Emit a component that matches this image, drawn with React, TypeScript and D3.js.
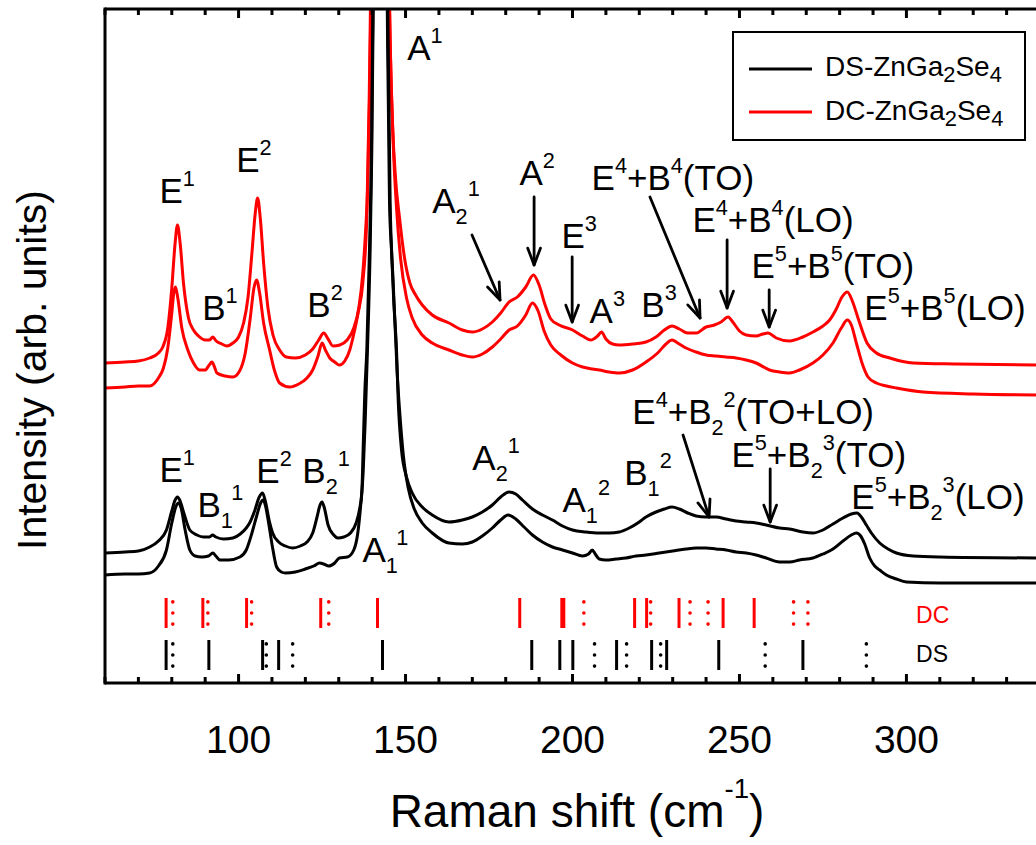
import { curveMonotoneX, line as d3_line, range, scaleLinear } from "d3";
import type { FC } from "react";

// Raman spectra, [shift (cm-1), intensity (arb.)]
const dcUpper: [number, number][] = [
  [60, 320], [66, 321], [70, 322], [73.4, 325], [76, 330], [77.3, 336], [78.8, 355], [80, 395], [81, 440], [81.7, 458],
  [82.5, 440], [83.5, 400], [85, 365], [86.5, 353], [88, 347], [90, 343], [91.3, 343], [92.3, 346], [93.3, 342], [95, 339],
  [96.5, 337], [98.3, 340], [100, 346], [101.5, 360], [102.8, 385], [104, 430], [105, 470], [105.7, 485], [106.5, 465],
  [107.5, 420], [108.8, 375], [110.3, 348], [112.3, 333], [114.3, 326], [117, 325], [120, 328], [122.2, 334], [124, 343],
  [125.5, 350], [126.8, 344], [128.3, 337], [130.3, 338], [132.5, 343], [134.5, 355], [136, 375], [137.2, 410], [138, 450],
  [138.7, 500], [139.3, 600], [140.1, 800], [141, 1100], [142.3, 1500], [143.6, 1100], [144.5, 820], [145.2, 673],
  [146.1, 560], [147, 505], [148.2, 465], [149.7, 425], [151.3, 400], [153, 388], [155, 378], [158, 368], [163, 360],
  [167, 353], [170, 351], [173, 354], [176, 361], [178.5, 370], [181, 381], [183.5, 386], [186, 396], [188.3, 408],
  [190, 398], [191.8, 378], [193.5, 364], [196, 358], [200, 353], [203, 347], [205.5, 343], [207.5, 347], [208.7, 351],
  [210, 344], [212, 339], [214, 338], [218, 339], [222, 341], [225, 346], [227.5, 353], [229.8, 357], [232, 354],
  [234.5, 350], [237, 350], [240, 356], [242.5, 358], [244.5, 361], [246.6, 366], [248, 361], [250, 352], [252, 348],
  [255, 347], [257, 349], [258.5, 350], [261, 345], [265, 342], [269, 346], [272, 351], [275, 357], [277, 363], [279, 374],
  [280.7, 386], [282.3, 391], [283.8, 382], [285.5, 365], [288.2, 340], [291, 330], [295, 325], [302, 320], [315, 319],
  [340, 318],
];

const dcLower: [number, number][] = [
  [60, 295], [66, 296], [70, 297], [73.4, 297], [76, 305], [77.5, 315], [78.8, 335], [80, 370], [80.6, 390], [81.1, 396],
  [81.8, 385], [83, 355], [84.8, 333], [86.5, 320], [88.3, 313], [90, 313], [91.2, 318], [92, 321], [92.8, 316], [93.5, 310],
  [96, 307], [98.3, 306], [100.3, 312], [102, 330], [103.5, 365], [104.6, 395], [105.4, 403], [106.3, 390], [107.5, 360],
  [109.3, 333], [110.8, 312], [112.3, 300], [115.3, 296], [118, 299], [120.5, 305], [122.2, 313], [123.8, 327], [125, 340],
  [126, 333], [127.3, 325], [128.8, 321], [130.2, 318], [131.8, 322], [133.3, 333], [134.3, 346], [135.8, 370],
  [137.2, 400], [138.4, 466], [139.1, 580], [140, 800], [141, 1200], [142.3, 1600], [143.6, 1200], [144.6, 820],
  [145.4, 640], [146.3, 540], [147.3, 475], [148.5, 425], [150.3, 385], [152, 365], [155, 348], [158, 340], [163, 333],
  [167, 328], [170, 326], [173, 329], [176, 336], [178.5, 344], [181, 353], [183.5, 357], [186, 368], [188, 380],
  [189.7, 372], [191.5, 352], [193.5, 338], [196.5, 328], [200, 320], [203, 316], [206, 314], [208, 313], [211, 311],
  [214, 310], [218, 313], [222, 321], [225.5, 330], [228, 339], [229.8, 343], [231.5, 340], [234, 335], [237, 331],
  [240, 328], [243, 327], [246, 326], [249, 325], [252, 323], [255, 320], [259, 313], [262, 311], [265, 310], [268, 313],
  [272, 320], [275, 328], [278, 340], [280.5, 355], [282.3, 363], [283.5, 358], [285, 340], [286.7, 320], [288.5, 306],
  [291, 300], [294, 297], [297, 295], [305, 291], [320, 289], [340, 288],
];

const dsUpper: [number, number][] = [
  [60, 130], [66, 131], [70, 132], [73.4, 136], [76, 142], [78.4, 153], [80, 172], [81, 183], [81.7, 186], [82.5, 182],
  [83.6, 170], [85.4, 153], [87.5, 148], [89.5, 146], [91.3, 146], [92.2, 148], [93.2, 146], [95.5, 144], [98.3, 145],
  [100.5, 149], [102.3, 155], [103.3, 160], [104.8, 172], [106.2, 186], [107.2, 190], [108, 182], [109.2, 162],
  [110.2, 150], [112, 141], [114, 137], [116.2, 135], [118.5, 137], [120.5, 141], [122.2, 150], [123.5, 166], [124.4, 178],
  [125, 181], [125.7, 175], [126.8, 158], [128.5, 148], [129.7, 145], [131.5, 146], [133.5, 150], [135.2, 160],
  [136.3, 175], [136.9, 190], [137.3, 233], [137.8, 290], [138.4, 333], [139.2, 433], [139.8, 533], [140.3, 700],
  [141.2, 1100], [142.3, 1500], [143.5, 1100], [144.2, 800], [144.6, 650], [145.2, 480], [145.8, 433], [146.5, 380],
  [147.3, 333], [147.8, 283], [148.8, 233], [150.3, 206], [152, 190], [155, 176], [158, 168], [163, 161], [167, 163],
  [170, 166], [173, 171], [176, 178], [178.5, 186], [181, 191], [183, 189], [185, 183], [188, 174], [191, 168], [194, 163],
  [197, 157], [200, 153], [204, 151], [208, 150], [211, 150], [214, 151], [217, 155], [220, 161], [222, 166], [225, 171],
  [227.5, 174], [229.8, 176], [232, 174], [234.5, 170], [237, 167], [240, 166], [243, 166], [246, 164], [249, 162],
  [252, 161], [255, 160], [258, 158], [262, 155], [265, 154], [269, 151], [272, 150], [275, 153], [278, 159], [281, 165],
  [283.5, 169], [285.2, 170], [286.5, 166], [288, 158], [289.5, 150], [292, 140], [294.5, 134], [297, 130], [302, 127],
  [310, 126], [340, 125],
];

const dsLower: [number, number][] = [
  [60, 108], [66, 109], [70, 109], [73.4, 110], [76, 117], [78.4, 133], [80, 160], [81.2, 176], [82, 180], [82.8, 175],
  [84, 153], [85.4, 133], [87, 127], [89, 126], [91, 127], [92.3, 130], [93.2, 127], [94.4, 123], [97, 123], [100.4, 126],
  [102.3, 133], [104, 150], [105.5, 168], [106.6, 180], [107.3, 183], [108, 178], [109, 160], [110.2, 135], [111.4, 116],
  [112.8, 111], [114, 110], [117, 111], [120, 114], [122.5, 117], [124.3, 120], [125.5, 119], [127, 117], [128.8, 120],
  [130.2, 125], [132.6, 126], [134.5, 133], [135.7, 150], [136.5, 175], [137.3, 210], [137.9, 260], [138.6, 333],
  [139.4, 433], [139.9, 533], [140.4, 700], [141.3, 1100], [142.4, 1500], [143.5, 1100], [144.3, 800], [144.8, 640],
  [145.4, 480], [146.3, 400], [147.5, 310], [148.5, 260], [149.6, 220], [150.8, 195], [152.5, 175], [155, 160], [158, 150],
  [163, 140], [167, 139], [170, 141], [173, 147], [176, 155], [178.5, 163], [180.7, 168], [183, 164], [185.5, 156],
  [188, 148], [191, 141], [194, 136], [197, 133], [200, 130], [203, 127], [204.8, 129], [205.9, 133], [206.8, 129],
  [208, 124], [210, 123], [213, 124], [216, 125], [219, 127], [222, 128], [226, 130], [230, 132], [234, 134], [237, 135],
  [240, 135], [243, 134], [246, 133], [249, 131], [252, 130], [255, 128], [258, 125], [262, 121], [265, 121], [268, 123],
  [272, 125], [275, 129], [278, 134], [281, 142], [283.5, 148], [285, 150], [286.3, 147], [287.5, 139], [289, 125],
  [290.5, 117], [292, 113], [294, 108], [297, 104], [300, 101], [310, 100], [340, 100],
];

// calculated mode positions (cm-1), solid and dotted marks
const dcSolid = [78.3, 89.3, 102.4, 124.6, 141.6, 184.2, 196.8, 197.4, 218.6, 222.2, 231.9, 245.1, 254.4];
const dcDotted = [80.3, 90.8, 103.9, 127, 203.4, 223.4, 235.2, 240.6, 266.2, 270.5];
const dsSolid = [78.3, 91.1, 107.2, 112, 143.1, 187.8, 196.2, 200.1, 213.2, 223.7, 228.2, 243.8, 269];
const dsDotted = [80.3, 108.3, 116.2, 206.6, 216.2, 226.4, 257.7, 288];

const xMajorTicks = [100, 150, 200, 250, 300];
const xMinorTicks = range(60, 341, 10);

// peak labels: text, x (cm-1), y (intensity) of the baseline start
const dcLabels = [
  { text: "E^{1}", x: 76.3, y: 480 },
  { text: "B^{1}", x: 89.1, y: 363 },
  { text: "E^{2}", x: 99.3, y: 511 },
  { text: "B^{2}", x: 120.6, y: 366 },
  { text: "A^{1}", x: 150.5, y: 623 },
  { text: "A_{2}^{1}", x: 158, y: 470 },
  { text: "A^{2}", x: 184.1, y: 498 },
  { text: "E^{3}", x: 196.7, y: 435 },
  { text: "A^{3}", x: 205.1, y: 360 },
  { text: "B^{3}", x: 220.6, y: 366 },
  { text: "E^{4}+B^{4}(TO)", x: 205.7, y: 493 },
  { text: "E^{4}+B^{4}(LO)", x: 235.9, y: 451 },
  { text: "E^{5}+B^{5}(TO)", x: 253.6, y: 405 },
  { text: "E^{5}+B^{5}(LO)", x: 287.4, y: 363 },
];

const dsLabels = [
  { text: "E^{1}", x: 76.3, y: 201 },
  { text: "B_{1}^{1}", x: 87.7, y: 166 },
  { text: "E^{2}", x: 105.3, y: 200 },
  { text: "B_{2}^{1}", x: 119.1, y: 200 },
  { text: "A_{1}^{1}", x: 137.1, y: 121 },
  { text: "A_{2}^{1}", x: 170, y: 213 },
  { text: "A_{1}^{2}", x: 197, y: 171 },
  { text: "B_{1}^{2}", x: 215.5, y: 198 },
  { text: "E^{4}+B_{2}^{2}(TO+LO)", x: 217.9, y: 259 },
  { text: "E^{5}+B_{2}^{3}(TO)", x: 247.6, y: 216 },
  { text: "E^{5}+B_{2}^{3}(LO)", x: 283.5, y: 174 },
];

// arrows: [x1, y1, x2, y2] in data units
const arrows: [number, number, number, number][] = [
  [169.9, 448, 178.3, 383],
  [188.5, 486, 188.5, 418],
  [199.9, 426, 199.9, 361],
  [223.2, 486, 238.2, 365],
  [246.3, 443, 246.3, 375],
  [258.9, 393, 258.9, 356],
  [233.1, 248, 240.9, 166],
  [259.2, 214, 259.2, 161],
];

const W = 1036;
const H = 845;
const margin = { left: 105, top: 9, right: 1040, bottom: 683 };
const FONT = "'Liberation Sans', Arial, Helvetica, sans-serif";
const RED = "#ff0000";

const xScale = scaleLinear().domain([60, 340]).range([margin.left, margin.right]);
const yScale = scaleLinear().domain([0, 674]).range([margin.bottom, margin.top]);

const spectrum = d3_line<[number, number]>()
  .x((d) => xScale(d[0]))
  .y((d) => yScale(d[1]))
  .curve(curveMonotoneX);

type Part = { kind: "n" | "sup" | "sub"; text: string };
const parseRich = (s: string): Part[] =>
  s
    .split(/(\^\{[^}]*\}|_\{[^}]*\})/)
    .filter((p) => p.length > 0)
    .map((p) =>
      p.startsWith("^{")
        ? { kind: "sup", text: p.slice(2, -1) }
        : p.startsWith("_{")
          ? { kind: "sub", text: p.slice(2, -1) }
          : { kind: "n", text: p },
    );

const RichText: FC<{
  x: number;
  y: number;
  text: string;
  size: number;
  fill?: string;
  anchor?: "start" | "middle" | "end";
  supShift?: number;
  subShift?: number;
  scale?: number;
}> = ({ x, y, text, size, fill = "#000", anchor = "start", supShift = 0.48, subShift = 0.3, scale = 0.62 }) => {
  let cur = 0;
  return (
    <text x={x} y={y} fontSize={size} fill={fill} textAnchor={anchor} fontFamily={FONT}>
      {parseRich(text).map((p, i) => {
        const target = p.kind === "sup" ? -supShift * size : p.kind === "sub" ? subShift * size : 0;
        const dy = target - cur;
        cur = target;
        return (
          <tspan key={i} dy={dy} fontSize={p.kind === "n" ? size : size * scale}>
            {p.text}
          </tspan>
        );
      })}
    </text>
  );
};

const Arrow: FC<{ d: [number, number, number, number] }> = ({ d }) => {
  const x1 = xScale(d[0]);
  const y1 = yScale(d[1]);
  const x2 = xScale(d[2]);
  const y2 = yScale(d[3]);
  const a = Math.atan2(y2 - y1, x2 - x1);
  const len = 18;
  const spread = 0.36;
  const h1 = [x2 - len * Math.cos(a - spread), y2 - len * Math.sin(a - spread)];
  const h2 = [x2 - len * Math.cos(a + spread), y2 - len * Math.sin(a + spread)];
  return (
    <g stroke="#000" strokeWidth={2.8} fill="none" strokeLinecap="round" strokeLinejoin="round">
      <line x1={x1} y1={y1} x2={x2} y2={y2} />
      <polyline points={`${h1[0]},${h1[1]} ${x2},${y2} ${h2[0]},${h2[1]}`} />
    </g>
  );
};

const ModeRow: FC<{ solid: number[]; dotted: number[]; top: number; bottom: number; color: string }> = ({
  solid,
  dotted,
  top,
  bottom,
  color,
}) => (
  <g stroke={color} strokeWidth={3}>
    {solid.map((v, i) => (
      <line key={`s${i}`} x1={xScale(v)} x2={xScale(v)} y1={yScale(top)} y2={yScale(bottom)} />
    ))}
    {dotted.map((v, i) => (
      <g key={`d${i}`}>
        {[0.13, 0.5, 0.87].map((f, j) => (
          <circle key={j} cx={xScale(v)} cy={yScale(top + (bottom - top) * f)} r={1.8} fill={color} stroke="none" />
        ))}
      </g>
    ))}
  </g>
);

export default function App() {
  return (
    <svg
      width={W}
      height={H}
      viewBox={`0 0 ${W} ${H}`}
      style={{ position: "absolute", left: 0, top: 0, background: "#fff" }}
    >
      <defs>
        <clipPath id="plot">
          <rect x={margin.left} y={margin.top} width={margin.right - margin.left} height={margin.bottom - margin.top} />
        </clipPath>
      </defs>
      <rect width={W} height={H} fill="#fff" />

      <g clipPath="url(#plot)" fill="none" strokeWidth={3} strokeLinejoin="round">
        <path d={spectrum(dcLower) ?? ""} stroke={RED} />
        <path d={spectrum(dcUpper) ?? ""} stroke={RED} />
        <path d={spectrum(dsLower) ?? ""} stroke="#000" />
        <path d={spectrum(dsUpper) ?? ""} stroke="#000" />
      </g>

      <ModeRow solid={dcSolid} dotted={dcDotted} top={85} bottom={55} color={RED} />
      <ModeRow solid={dsSolid} dotted={dsDotted} top={43} bottom={13} color="#000" />
      <text x={xScale(302.9)} y={yScale(60)} fontSize={23} fill={RED} fontFamily={FONT}>
        DC
      </text>
      <text x={xScale(302.9)} y={yScale(21)} fontSize={23} fill="#000" fontFamily={FONT}>
        DS
      </text>

      {dcLabels.concat(dsLabels).map((l, i) => (
        <RichText key={i} x={xScale(l.x)} y={yScale(l.y)} text={l.text} size={35} />
      ))}
      {arrows.map((a, i) => (
        <Arrow key={i} d={a} />
      ))}

      {/* legend */}
      <g fontFamily={FONT}>
        <rect x={733} y={32} width={292} height={108} fill="#fff" stroke="#000" strokeWidth={2} />
        <line x1={749} x2={812} y1={69} y2={69} stroke="#000" strokeWidth={3} />
        <line x1={749} x2={812} y1={112} y2={112} stroke={RED} strokeWidth={3} />
        <RichText x={825} y={76} text="DS-ZnGa_{2}Se_{4}" size={28} subShift={0.22} scale={0.78} />
        <RichText x={825} y={120} text="DC-ZnGa_{2}Se_{4}" size={28} subShift={0.22} scale={0.78} />
      </g>

      {/* axes */}
      <g stroke="#000" strokeWidth={3} fill="none">
        <line x1={margin.left} x2={margin.right} y1={margin.bottom} y2={margin.bottom} />
        <line x1={margin.left} x2={margin.right} y1={margin.top} y2={margin.top} />
        <line x1={margin.left} x2={margin.left} y1={margin.top - 1.5} y2={margin.bottom + 1.5} />
        {xMinorTicks.map((t) => {
          const len = xMajorTicks.includes(t) ? 9 : 6;
          return (
            <g key={t}>
              <line x1={xScale(t)} x2={xScale(t)} y1={margin.bottom} y2={margin.bottom - len} />
              <line x1={xScale(t)} x2={xScale(t)} y1={margin.top} y2={margin.top + len} />
            </g>
          );
        })}
      </g>
      {xMajorTicks.map((t) => (
        <text key={t} x={xScale(t)} y={753} fontSize={39} textAnchor="middle" fontFamily={FONT}>
          {t}
        </text>
      ))}
      <RichText x={577} y={827} text="Raman shift (cm^{-1})" size={46} anchor="middle" supShift={0.62} scale={0.6} />
      <text
        x={0}
        y={0}
        transform="translate(46,370) rotate(-90)"
        fontSize={41}
        textAnchor="middle"
        fontFamily={FONT}
      >
        Intensity (arb. units)
      </text>
    </svg>
  );
}
